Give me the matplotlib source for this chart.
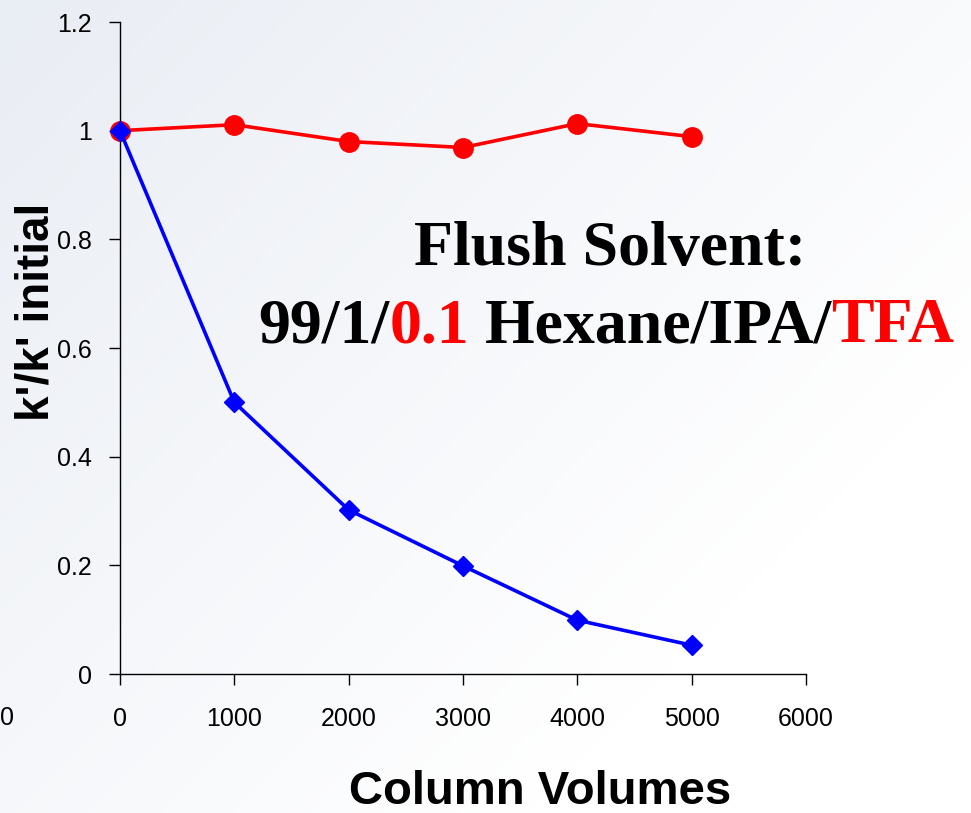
import numpy as np
import matplotlib
matplotlib.use("Agg")
import matplotlib.pyplot as plt

# ---- data ----
column_volumes = [0, 1000, 2000, 3000, 4000, 5000]
red_series = [1.0, 1.011, 0.98, 0.969, 1.013, 0.989]
blue_series = [1.0, 0.5, 0.302, 0.199, 0.099, 0.053]
x_ticks = [0, 1000, 2000, 3000, 4000, 5000, 6000]
y_ticks = [0, 0.2, 0.4, 0.6, 0.8, 1.0, 1.2]
y_tick_labels = ["0", "0.2", "0.4", "0.6", "0.8", "1", "1.2"]

W, H = 971, 813
fig = plt.figure(figsize=(W / 100, H / 100), dpi=100)
sans = ["Liberation Sans", "DejaVu Sans"]
serif = ["Liberation Serif", "DejaVu Serif"]

# background gradient
bg = fig.add_axes([0, 0, 1, 1], zorder=-10)
yy, xx = np.mgrid[0:1:200j, 0:1:240j]
d = np.clip(0.55 * xx + 0.45 * yy, 0, 1)
c0 = np.array([233, 237, 244]) / 255.0
c1 = np.array([255, 255, 255]) / 255.0
t = np.clip(d / 0.75, 0, 1)[..., None]
img = c0 * (1 - t) + c1 * t
bg.imshow(img, aspect="auto", extent=[0, 1, 0, 1], origin="upper")
bg.axis("off")

ax = fig.add_axes([120 / W, 1 - 674 / H, (806 - 120) / W, (674 - 22) / H])
ax.set_facecolor("none")

ax.plot(column_volumes, red_series, color="#ff0000", lw=2.6, marker="o",
        markersize=14, zorder=3, clip_on=False)
ax.plot(column_volumes, blue_series, color="#0000ff", lw=2.6, marker="D",
        markersize=10, zorder=4, clip_on=False)

ax.set_xlim(0, 6000)
ax.set_ylim(0, 1.2)
ax.set_xticks(x_ticks)
ax.set_yticks(y_ticks)
ax.set_yticklabels(y_tick_labels)
for s in ["top", "right"]:
    ax.spines[s].set_visible(False)
for s in ["left", "bottom"]:
    ax.spines[s].set_linewidth(1.0)
    ax.spines[s].set_color("black")
ax.tick_params(axis="both", direction="out", length=8, width=1.0,
               labelsize=18, colors="black")
ax.tick_params(axis="x", pad=16)
ax.tick_params(axis="y", pad=12)
for lab in ax.get_xticklabels() + ax.get_yticklabels():
    lab.set_family(sans)

# axis titles
fig.text(540 / W, 1 - 792 / H, "Column Volumes", fontsize=34, fontweight="bold",
         family=sans, ha="center", va="center", color="black")
fig.text(37 / W, 1 - 312 / H, "k'/k' initial", fontsize=33, fontweight="bold",
         family=sans, ha="center", va="center", rotation=90, color="black")

# stray label at left edge
fig.text(0, 1 - 718 / H, "0", fontsize=18, family=sans, ha="left", va="center")

# annotation
fs = 46
fig.text(610 / W, 1 - 250 / H, "Flush Solvent:", fontsize=fs, fontweight="bold",
         family=serif, ha="center", va="center", color="black")
t1 = fig.text(258 / W, 1 - 356 / H, "99/1/", fontsize=fs, fontweight="bold",
              family=serif, ha="left", va="bottom", color="black")
a2 = ax.annotate("0.1", xy=(1, 0), xycoords=t1, fontsize=fs, fontweight="bold",
                 family=serif, color="#ff0000", ha="left", va="bottom",
                 annotation_clip=False)
a3 = ax.annotate(" Hexane/IPA/", xy=(1, 0), xycoords=a2, fontsize=fs,
                 fontweight="bold", family=serif, color="black", ha="left",
                 va="bottom", annotation_clip=False)
a4 = ax.annotate("TFA", xy=(1, 0), xycoords=a3, fontsize=fs, fontweight="bold",
                 family=serif, color="#ff0000", ha="left", va="bottom",
                 annotation_clip=False)

fig.savefig("out.png", dpi=100)
